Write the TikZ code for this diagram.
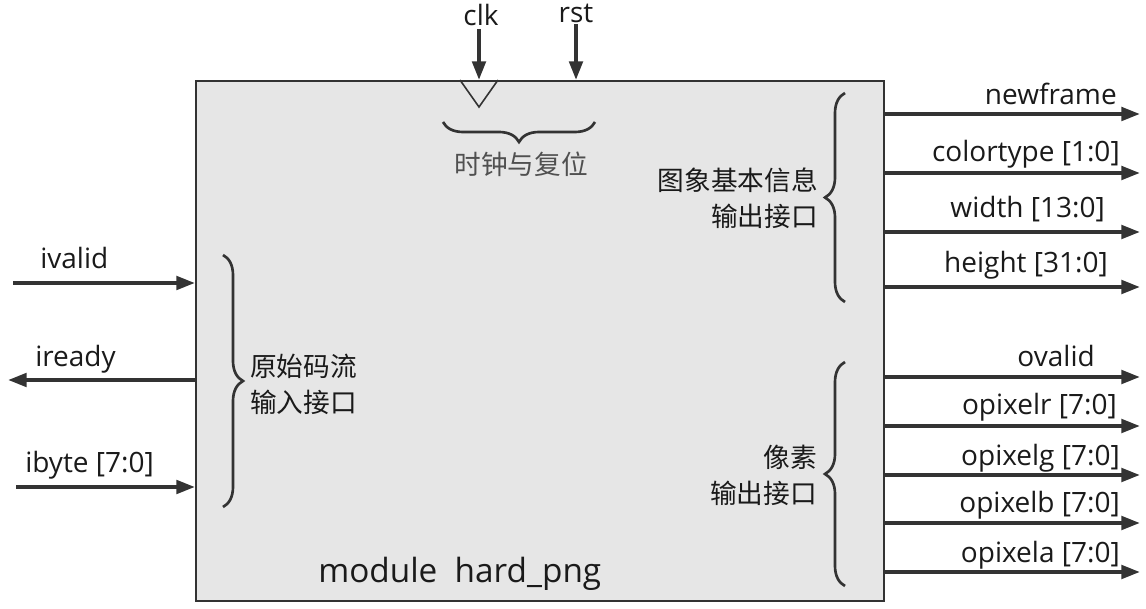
\documentclass[tikz,border=0pt]{standalone}
\usepackage{fontspec}
\setmainfont{Open Sans}
\newfontfamily\cjk{Noto Sans CJK SC}
\usetikzlibrary{arrows.meta,decorations.pathreplacing}
\definecolor{linec}{HTML}{333333}
\definecolor{boxfill}{HTML}{E6E6E6}
\definecolor{txt}{HTML}{1A1A1A}
\definecolor{graytxt}{HTML}{505050}
\begin{document}
\begin{tikzpicture}[x=0.75pt,y=-0.75pt,
  sig/.style={draw=linec,line width=3pt,-{Triangle[length=14pt,width=10pt]}},
  lbl/.style={font=\fontsize{21}{25}\selectfont,text=txt,inner sep=0pt},
  cjklbl/.style={font=\cjk\fontsize{20}{27}\selectfont,text=txt,inner sep=0pt},
  bracestyle/.style={draw=linec,line width=2pt,decorate,decoration={brace,amplitude=15pt}}
]
\useasboundingbox (0,0) rectangle (1146,609);
% module box
\node[draw=linec,line width=1.5pt,fill=boxfill,minimum width=516pt,minimum height=390pt,
      anchor=north west,inner sep=0pt] (box) at (195,80) {};
% clock triangle
\coordinate (triL) at (460,80);
\coordinate (triB) at (479,107);
\coordinate (triR) at (498,80);
\draw[linec,line width=1.2pt] (triL) -- (triB) -- (triR);
% top inputs
\node[lbl,anchor=base] (clk) at (481,26) {clk};
\node[lbl,anchor=base] (rst) at (576,23) {rst};
\coordinate (clkS) at (479,29);
\coordinate (rstS) at (576,24);
\draw[sig] (clkS) -- (clkS |- box.north);
\draw[sig] (rstS) -- (rstS |- box.north);
% top brace
\coordinate (tbR) at (595,122);
\coordinate (tbL) at (443,122);
\draw[bracestyle] (tbR) -- (tbL);
\node[font=\cjk\fontsize{20}{27}\selectfont,text=graytxt,inner sep=0pt,anchor=base] (clkrst) at (521,175) {时钟与复位};
% left inputs
\coordinate (ivalidS) at (13,283);
\coordinate (ireadyE) at (8,380);
\coordinate (ibyteS) at (16,487);
\draw[sig] (ivalidS) -- (ivalidS -| box.west);
\draw[sig] (ireadyE -| box.west) -- (ireadyE);
\draw[sig] (ibyteS) -- (ibyteS -| box.west);
\node[lbl,anchor=base west] (ivalid) at (40,269) {ivalid};
\node[lbl,anchor=base west] (iready) at (35,367) {iready};
\node[lbl,anchor=base west] (ibyte) at (25,472) {ibyte [7:0]};
% left brace
\coordinate (lbT) at (223,255);
\coordinate (lbB) at (223,507);
\draw[bracestyle] (lbT) -- (lbB);
\node[cjklbl,align=left,anchor=west] (inlbl) at (250,384) {原始码流\\输入接口};
% right outputs - image info
\coordinate (nfE) at (1140,114);
\coordinate (ctE) at (1140,173);
\coordinate (wdE) at (1140,232);
\coordinate (htE) at (1140,287);
\draw[sig] (nfE -| box.east) -- (nfE);
\draw[sig] (ctE -| box.east) -- (ctE);
\draw[sig] (wdE -| box.east) -- (wdE);
\draw[sig] (htE -| box.east) -- (htE);
\node[lbl,anchor=base east] (newframe) at (1117,105) {newframe};
\node[lbl,anchor=base east] (colortype) at (1120,162) {colortype [1:0]};
\node[lbl,anchor=base east] (width) at (1105,218) {width [13:0]};
\node[lbl,anchor=base east] (height) at (1108,273) {height [31:0]};
\coordinate (rbB1) at (845,302);
\coordinate (rbT1) at (845,93);
\draw[bracestyle] (rbB1) -- (rbT1);
\node[cjklbl,align=right,anchor=east] (infolbl) at (818,198) {图象基本信息\\输出接口};
% right outputs - pixels
\coordinate (ovE) at (1140,377);
\coordinate (prE) at (1140,426);
\coordinate (pgE) at (1140,475);
\coordinate (pbE) at (1140,523);
\coordinate (paE) at (1140,572);
\draw[sig] (ovE -| box.east) -- (ovE);
\draw[sig] (prE -| box.east) -- (prE);
\draw[sig] (pgE -| box.east) -- (pgE);
\draw[sig] (pbE -| box.east) -- (pbE);
\draw[sig] (paE -| box.east) -- (paE);
\node[lbl,anchor=base east] (ovalid) at (1095,367) {ovalid};
\node[lbl,anchor=base east] (opixelr) at (1117,415) {opixelr [7:0]};
\node[lbl,anchor=base east] (opixelg) at (1120,465) {opixelg [7:0]};
\node[lbl,anchor=base east] (opixelb) at (1120,512) {opixelb [7:0]};
\node[lbl,anchor=base east] (opixela) at (1120,562) {opixela [7:0]};
\coordinate (rbB2) at (845,586);
\coordinate (rbT2) at (845,362);
\draw[bracestyle] (rbB2) -- (rbT2);
\node[cjklbl,align=right,anchor=east] (pixlbl) at (817,475) {像素\\输出接口};
% module name
\node[font=\fontsize{25}{30}\selectfont,text=txt,inner sep=0pt,anchor=base west] (modname) at (318,582) {module~~hard\_png};
\end{tikzpicture}
\end{document}
